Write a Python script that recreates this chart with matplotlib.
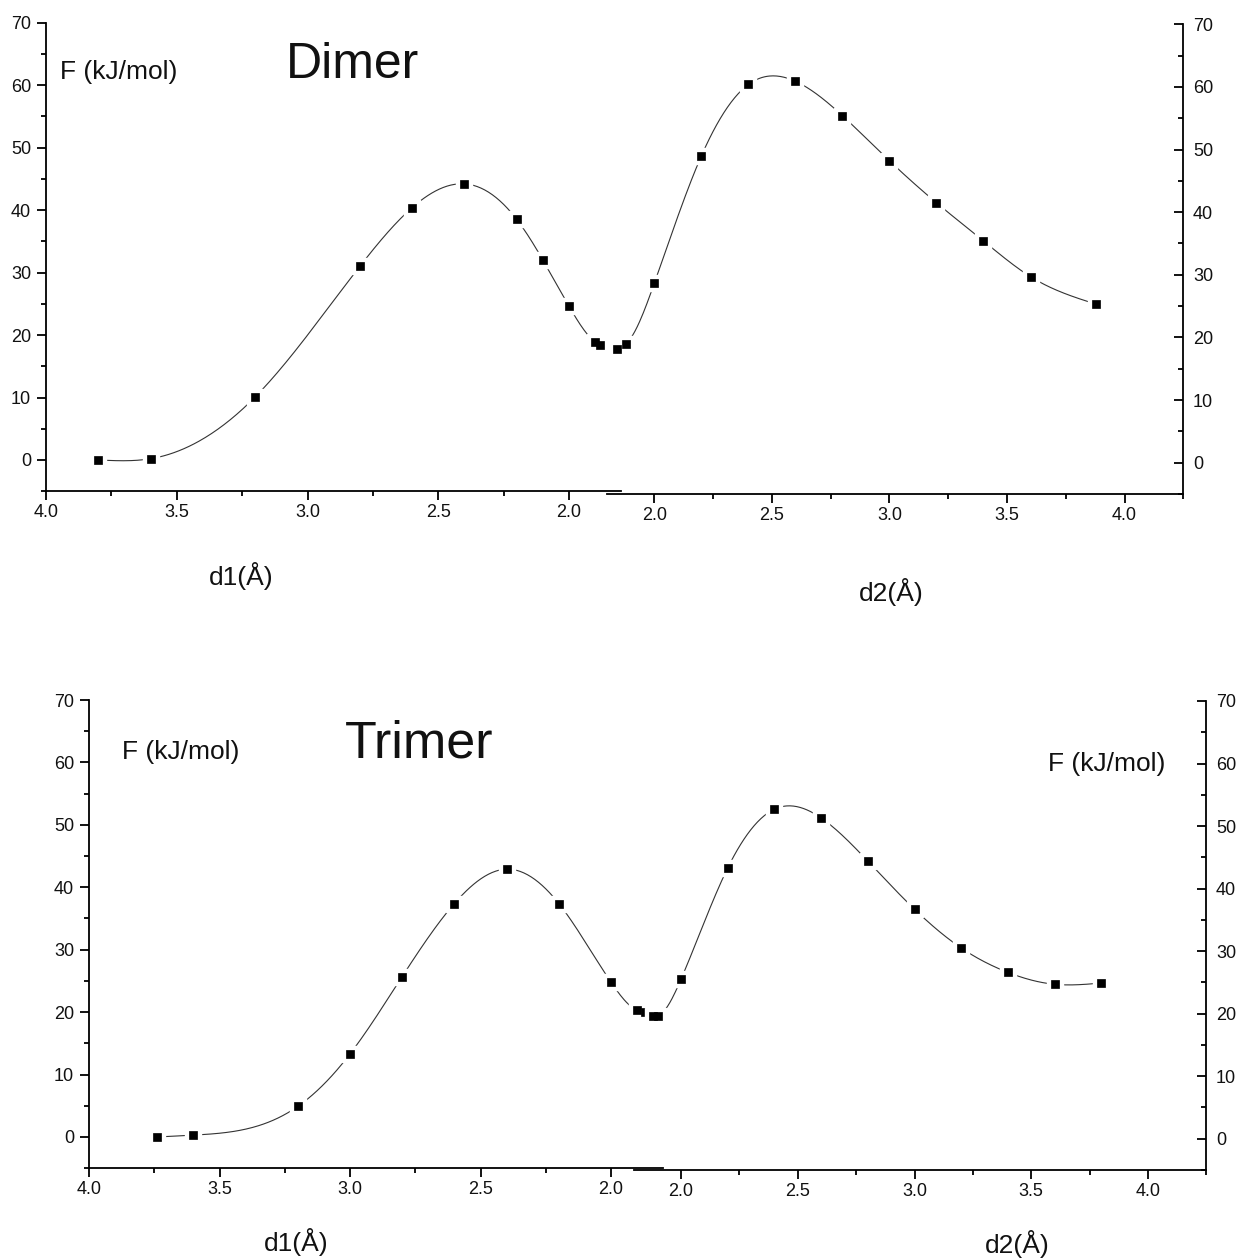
import numpy as np
import matplotlib
matplotlib.use("Agg")
import matplotlib.pyplot as plt
from matplotlib.ticker import MultipleLocator, FormatStrFormatter

plt.rcParams['font.family'] = ['Liberation Sans', 'DejaVu Sans']

# ---------------- data ----------------
dimer_d1 = [3.8, 3.6, 3.2, 2.8, 2.6, 2.4, 2.2, 2.1, 2.0, 1.9, 1.88]
dimer_F1 = [0.0, 0.2, 10.1, 31.0, 40.4, 44.2, 38.5, 32.0, 24.6, 18.9, 18.4]
dimer_d2 = [1.84, 1.88, 2.0, 2.2, 2.4, 2.6, 2.8, 3.0, 3.2, 3.4, 3.6, 3.88]
dimer_F2 = [18.2, 19.0, 28.7, 49.0, 60.4, 60.9, 55.4, 48.2, 41.5, 35.4, 29.7, 25.3]

trimer_d1 = [3.74, 3.6, 3.2, 3.0, 2.8, 2.6, 2.4, 2.2, 2.0, 1.9, 1.87]
trimer_F1 = [0.0, 0.3, 4.9, 13.3, 25.7, 37.4, 42.9, 37.4, 24.8, 20.3, 20.0]
trimer_d2 = [1.88, 1.9, 2.0, 2.2, 2.4, 2.6, 2.8, 3.0, 3.2, 3.4, 3.6, 3.8]
trimer_F2 = [19.7, 19.7, 25.5, 43.3, 52.7, 51.3, 44.4, 36.7, 30.5, 26.6, 24.7, 24.9]

x_ticks = [4.0, 3.5, 3.0, 2.5, 2.0]
y_ticks = [0, 10, 20, 30, 40, 50, 60, 70]

W, H = 1240, 1258


def natural_spline(x, y, n=400):
    x = np.asarray(x, float)
    y = np.asarray(y, float)
    order = np.argsort(x)
    x, y = x[order], y[order]
    m = len(x)
    h = np.diff(x)
    A = np.zeros((m, m))
    b = np.zeros(m)
    A[0, 0] = 1
    A[-1, -1] = 1
    for i in range(1, m - 1):
        A[i, i - 1] = h[i - 1]
        A[i, i] = 2 * (h[i - 1] + h[i])
        A[i, i + 1] = h[i]
        b[i] = 6 * ((y[i + 1] - y[i]) / h[i] - (y[i] - y[i - 1]) / h[i - 1])
    M = np.linalg.solve(A, b)
    xs = np.linspace(x[0], x[-1], n)
    idx = np.clip(np.searchsorted(x, xs) - 1, 0, m - 2)
    x0, x1 = x[idx], x[idx + 1]
    hh = x1 - x0
    t0 = (x1 - xs)
    t1 = (xs - x0)
    ys = (M[idx] * t0 ** 3 / (6 * hh) + M[idx + 1] * t1 ** 3 / (6 * hh)
          + (y[idx] / hh - M[idx] * hh / 6) * t0
          + (y[idx + 1] / hh - M[idx + 1] * hh / 6) * t1)
    return xs, ys


def make_axes(x0, x1, ytop, ybot):
    return plt.gcf().add_axes([x0 / W, 1 - ybot / H, (x1 - x0) / W, (ybot - ytop) / H])


def draw_series(ax, x, y):
    xs, ys = natural_spline(x, y)
    ax.plot(xs, ys, color='#333333', lw=0.8, zorder=2, clip_on=False)
    ax.plot(x, y, ls='none', marker='s', ms=11, mfc='white', mec='white', zorder=3, clip_on=False)
    ax.plot(x, y, ls='none', marker='s', ms=6.3, mfc='black', mec='black', mew=0.5, zorder=4, clip_on=False)


def style_common(ax):
    ax.set_facecolor('none')
    ax.set_ylim(-5, 70)
    ax.spines['top'].set_visible(False)
    for s in ax.spines.values():
        s.set_linewidth(1.3)
    ax.yaxis.set_major_locator(plt.FixedLocator(y_ticks))
    ax.yaxis.set_minor_locator(MultipleLocator(5))
    ax.xaxis.set_minor_locator(MultipleLocator(0.25))
    ax.xaxis.set_major_formatter(FormatStrFormatter('%.1f'))
    ax.tick_params(which='major', length=6.3, width=1.3, labelsize=13, labelcolor='#111111')
    ax.tick_params(which='minor', length=3.4, width=1.3)
    ax.tick_params(axis='x', which='both', direction='out', pad=3)


def left_axes(box, x, y):
    ax = make_axes(*box)
    style_common(ax)
    ax.spines['right'].set_visible(False)
    ax.set_xlim(4.0, 1.8)
    ax.xaxis.set_major_locator(plt.FixedLocator(x_ticks))
    ax.tick_params(axis='y', which='both', direction='out', left=True, right=False, pad=4.5)
    draw_series(ax, x, y)
    return ax


def right_axes(box, x, y):
    ax = make_axes(*box)
    style_common(ax)
    ax.spines['left'].set_visible(False)
    ax.set_xlim(1.8, 4.25)
    ax.xaxis.set_major_locator(plt.FixedLocator([2.0, 2.5, 3.0, 3.5, 4.0]))
    ax.yaxis.tick_right()
    ax.tick_params(axis='y', which='both', direction='in', left=False, right=True,
                   labelleft=False, labelright=True, pad=7)
    draw_series(ax, x, y)
    return ax


fig = plt.figure(figsize=(W / 100, H / 100), dpi=100)

# Dimer
left_axes((46, 621.4, 22.7, 491.2), dimer_d1, dimer_F1)
right_axes((607.4, 1183.3, 24.3, 494), dimer_d2, dimer_F2)
# Trimer
left_axes((89, 663.2, 700, 1168.2), trimer_d1, trimer_F1)
right_axes((634.3, 1206.4, 701, 1170), trimer_d2, trimer_F2)


def ftext(x, y, s, size, ha='left', va='center'):
    fig.text(x / W, 1 - y / H, s, fontsize=size, ha=ha, va=va, color='#111111')


# Dimer texts
ftext(60, 72, 'F (kJ/mol)', 19)
ftext(286, 78, 'Dimer', 36, va='baseline')
ftext(241, 576, 'd1(Å)', 19, ha='center')
ftext(891, 592, 'd2(Å)', 19, ha='center')
# Trimer texts
ftext(122, 752, 'F (kJ/mol)', 19)
ftext(345, 757, 'Trimer', 37.5, va='baseline')
ftext(1048, 764, 'F (kJ/mol)', 19)
ftext(296, 1242, 'd1(Å)', 19, ha='center')
ftext(1017, 1244, 'd2(Å)', 19, ha='center')

fig.savefig('out.png', dpi=100)
